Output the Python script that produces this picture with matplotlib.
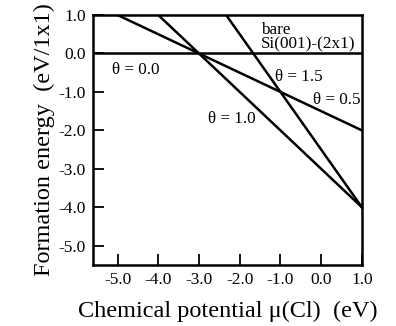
import numpy as np
import matplotlib
matplotlib.use("Agg")
import matplotlib.pyplot as plt

# Formation energy lines E(mu) = slope * mu + intercept
thetas = [0.0, 0.5, 1.0, 1.5]
slopes = [0.0, -0.5, -1.0, -1.5]
intercepts = [0.0, -1.5, -3.0, -2.5]

labels = ["θ = 0.0", "θ = 0.5", "θ = 1.0", "θ = 1.5"]
label_pos = [(-4.55, -0.42), (0.38, -1.2), (-2.2, -1.7), (-0.55, -0.62)]

xticks = [-5.0, -4.0, -3.0, -2.0, -1.0, 0.0, 1.0]
yticks = [1.0, 0.0, -1.0, -2.0, -3.0, -4.0, -5.0]

plt.rcParams["font.family"] = ["Liberation Serif", "DejaVu Serif"]

fig = plt.figure(figsize=(3.96, 3.26), dpi=100)
ax = fig.add_axes([0.235, 0.187, 0.679, 0.767])

xmin, xmax = -5.6, 1.0
ymin, ymax = -5.5, 1.0
mu = np.linspace(xmin, xmax, 400)
for s, b in zip(slopes, intercepts):
    ax.plot(mu, s * mu + b, color="black", lw=1.8)

for lab, (x, y) in zip(labels, label_pos):
    ax.text(x, y, lab, fontsize=12.3, ha="center", va="center")

ax.text(-1.47, 0.42, "bare\nSi(001)-(2x1)", fontsize=12.3, ha="left", va="center",
        linespacing=0.9)

ax.set_xlim(xmin, xmax)
ax.set_ylim(ymin, ymax)
ax.set_xticks(xticks)
ax.set_yticks(yticks)
ax.set_xticklabels([f"{v:.1f}" for v in xticks])
ax.set_yticklabels([f"{v:.1f}" for v in yticks])
ax.tick_params(direction="in", length=8, width=1.3, labelsize=12.5, pad=5)
for sp in ax.spines.values():
    sp.set_linewidth(1.8)

ax.set_xlabel("Chemical potential μ(Cl)  (eV)", fontsize=17.5, labelpad=9)
ax.set_ylabel("Formation energy  (eV/1x1)", fontsize=17.5, labelpad=3)

fig.savefig("out.png", dpi=100)
